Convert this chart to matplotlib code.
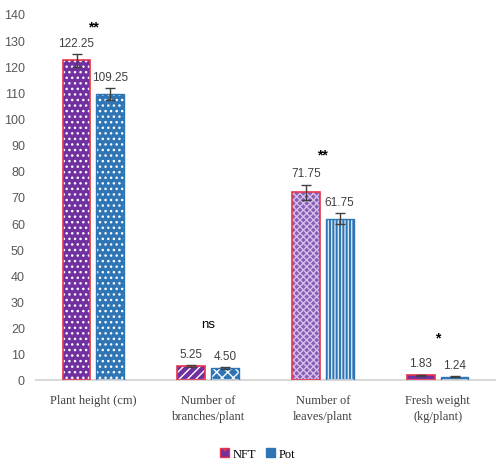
import matplotlib
matplotlib.use("Agg")
import matplotlib.pyplot as plt
from matplotlib.patches import Patch
import numpy as np

categories = ["Plant height (cm)", "Number of\nbranches/plant", "Number of\nleaves/plant", "Fresh weight\n(kg/plant)"]
nft = [122.25, 5.25, 71.75, 1.83]
pot = [109.25, 4.50, 61.75, 1.24]
nft_err = [2.5, 0.4, 3.0, 0.25]
pot_err = [2.3, 0.3, 2.0, 0.15]
labels_nft = ["122.25", "5.25", "71.75", "1.83"]
labels_pot = ["109.25", "4.50", "61.75", "1.24"]
signif = ["**", "ns", "**", "*"]
yticks = list(range(0, 141, 10))

purple = "#7030A0"
blue = "#2E75B6"
red = "#E8334A"
nft_hatch = ["...", "////", "xxxxx", ""]
pot_hatch = ["...", "xxx", "|||||", ""]
nft_face = [purple, purple, "#8A5CB8", purple]
nft_hcol = ["white", "white", "#D2C0E8", "white"]
pot_face = [blue, blue, blue, blue]
pot_hcol = ["white", "white", "#D6E6F5", "white"]
sig_off = [20, 30, 22, 27]

plt.rcParams['hatch.linewidth'] = 1.0
sans = ["Liberation Sans Narrow", "Liberation Sans", "DejaVu Sans"]
serif = ["Liberation Serif", "DejaVu Serif"]

fig = plt.figure(figsize=(4.96, 4.64), dpi=100)
ax = fig.add_axes([36/496, 1-381/464, 1-36/496-0.002, (381-15)/464])

x = np.arange(len(categories))
w = 0.24
off = 0.147

for i in range(len(categories)):
    ax.bar(x[i]-off, nft[i], w, color=nft_face[i], hatch=nft_hatch[i], edgecolor=nft_hcol[i], linewidth=0, zorder=2)
    ax.bar(x[i]-off, nft[i], w, fill=False, edgecolor=red, linewidth=1.2, zorder=3)
    ax.bar(x[i]+off, pot[i], w, color=pot_face[i], hatch=pot_hatch[i], edgecolor=pot_hcol[i], linewidth=0, zorder=2)
    ax.bar(x[i]+off, pot[i], w, fill=False, edgecolor=blue, linewidth=1.0, zorder=3)

ax.errorbar(x-off, nft, yerr=nft_err, fmt="none", ecolor="#404040", elinewidth=1, capsize=3.5, zorder=4)
ax.errorbar(x+off, pot, yerr=pot_err, fmt="none", ecolor="#404040", elinewidth=1, capsize=3.5, zorder=4)

for i in range(len(categories)):
    ax.annotate(labels_nft[i], (x[i]-off, nft[i]+nft_err[i]), xytext=(0, 8), textcoords="offset points",
                ha="center", va="center", fontsize=8.5, family=sans, color="#404040")
    ax.annotate(labels_pot[i], (x[i]+off, pot[i]+pot_err[i]), xytext=(0, 8), textcoords="offset points",
                ha="center", va="center", fontsize=8.5, family=sans, color="#404040")
    top = max(nft[i]+nft_err[i], pot[i]+pot_err[i])
    ax.annotate(signif[i], (x[i], top), xytext=(0, sig_off[i]), textcoords="offset points",
                ha="center", va="center", fontsize=10 if signif[i] != "ns" else 9.5,
                family=sans, color="black", fontweight="bold" if signif[i] != "ns" else "normal")

ax.set_xlim(-0.5, 3.5)
ax.set_ylim(0, 140)
ax.set_yticks(yticks)
ax.set_yticklabels([str(t) for t in yticks], family=sans, fontsize=9, color="#595959")
ax.set_xticks(x)
ax.set_xticklabels(categories, family=serif, fontsize=9, color="#404040", va="top", linespacing=1.5)
ax.tick_params(axis="both", length=0)
ax.tick_params(axis="y", pad=8)
ax.tick_params(axis="x", pad=10)
for s in ["top", "right", "left"]:
    ax.spines[s].set_visible(False)
ax.spines["bottom"].set_color("#D9D9D9")
ax.spines["bottom"].set_linewidth(1.5)

handles = [Patch(facecolor=purple, edgecolor=red, hatch="..", linewidth=1),
           Patch(facecolor=blue, edgecolor=blue, hatch="..", linewidth=1)]
fig.legend(handles, ["NFT", "Pot"], loc="center", bbox_to_anchor=(258/496, 1-455/464), ncol=2,
           frameon=False, prop={"family": serif, "size": 9}, handlelength=0.7, handleheight=0.7,
           handletextpad=0.3, columnspacing=0.8)

fig.savefig("out.png", dpi=100)
